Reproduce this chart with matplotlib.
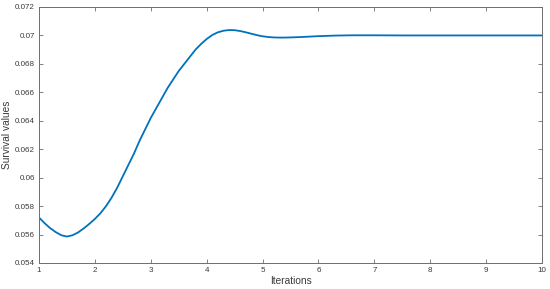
import numpy as np
import matplotlib
matplotlib.use('Agg')
from matplotlib import pyplot as plt
from matplotlib.ticker import FuncFormatter

# values
iterations = [1.0, 1.1, 1.2, 1.3, 1.4, 1.5, 1.6, 1.7, 1.8, 1.9,
              2.0, 2.1, 2.2, 2.3, 2.4, 2.5, 2.6, 2.7, 2.8, 2.9,
              3.0, 3.1, 3.2, 3.3, 3.4, 3.5, 3.6, 3.7, 3.8, 3.9,
              4.0, 4.1, 4.2, 4.3, 4.4, 4.5, 4.6, 4.7, 4.8, 4.9,
              5.0, 5.1, 5.2, 5.3, 5.4, 5.5, 5.7, 6.0, 6.3, 6.6,
              7.0, 7.5, 8.0, 9.0, 10.0]
survival = [0.0572, 0.0568, 0.05645, 0.05617, 0.05595, 0.05586, 0.05595, 0.05615, 0.05643, 0.05675,
            0.0571, 0.0575, 0.0580, 0.0586, 0.0593, 0.0601, 0.0609, 0.0617, 0.0626, 0.0634,
            0.0642, 0.0649, 0.0656, 0.0663, 0.0669, 0.0675, 0.0680, 0.0685, 0.0690, 0.0694,
            0.06975, 0.07003, 0.07022, 0.07033, 0.07038, 0.07037, 0.07031, 0.07022, 0.07012, 0.07002,
            0.06994, 0.06989, 0.06986, 0.06985, 0.06985, 0.06986, 0.06989, 0.06995, 0.06999, 0.07001,
            0.07001, 0.07, 0.07, 0.07, 0.07]

line_color = (0.0, 0.447, 0.741)
ax_color = '#6e6e6e'
txt_color = '#3a3a3a'

plt.rcParams['font.family'] = ['Liberation Sans', 'DejaVu Sans']

fig = plt.figure(figsize=(5.5, 2.89), dpi=100)
ax = fig.add_axes([0.0709, 0.090, 0.9146, 0.8858])
ax.plot(iterations, survival, color=line_color, lw=1.3)

ax.set_xlim(1, 10)
ax.set_ylim(0.054, 0.072)
ax.set_xticks(range(1, 11))
ax.set_yticks(np.arange(0.054, 0.0721, 0.002))
ax.yaxis.set_major_formatter(FuncFormatter(lambda v, p: '%g' % round(v, 3)))

ax.tick_params(direction='in', length=3, width=0.6, top=True, right=True,
               labelsize=5.8, colors=ax_color, labelcolor=txt_color, pad=3)
for s in ax.spines.values():
    s.set_color(ax_color)
    s.set_linewidth(0.7)

ax.set_xlabel('Iterations', fontsize=7.3, color=txt_color, labelpad=1)
ax.set_ylabel('Survival values', fontsize=7.3, color=txt_color, labelpad=2)

fig.savefig('out.png', dpi=100)
